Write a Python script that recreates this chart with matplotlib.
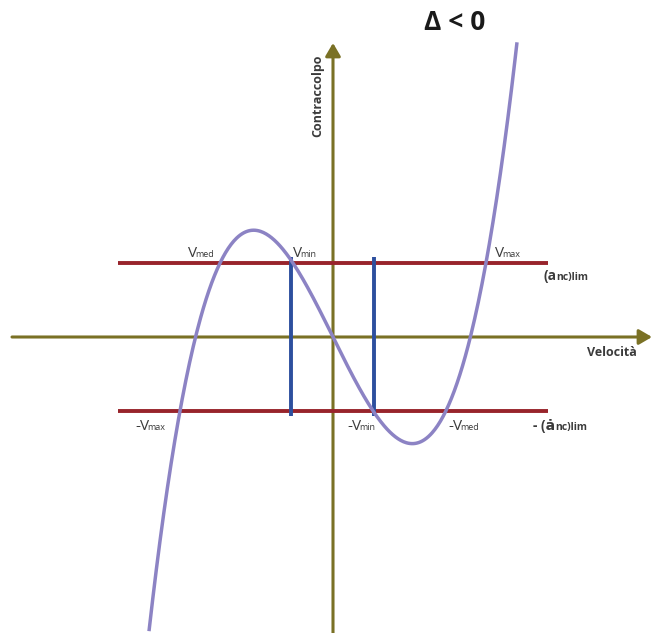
import numpy as np
import matplotlib
matplotlib.use("Agg")
import matplotlib.pyplot as plt
from matplotlib.transforms import offset_copy

plt.rcParams['font.family'] = ['Open Sans', 'DejaVu Sans']

# Points (velocity, jerk), arbitrary units
curve_v = [-184, -170, -158, -153, -138, -114, -80, -41, 0, 40, 79, 113, 137, 153, 184]
curve_j = [-296, -180, -104, -74, 0, 74, 105, 74, 0, -74, -106, -74, 0, 74, 294]

# Limit jerk levels and the velocities where the bars stand
jerk_limit = 74
limit_line_span = [-215, 215]
bar_velocities = [-42, 41]
bar_span = [-79, 80]

# Axis extents
x_axis_span = [-321, 319]
y_axis_span = [-296, 294]

AXIS_COL = '#7a7125'
LIMIT_COL = '#98242b'
BAR_COL = '#2d4f9e'
CURVE_COL = '#8c83c4'
TEXT_COL = '#3b3b3b'

fig = plt.figure(figsize=(6.62, 6.33), dpi=100)
ax = fig.add_axes([0, 0, 1, 1])
ax.set_xlim(-333, 329)
ax.set_ylim(-296, 337)
ax.axis('off')

# axes with arrowheads
arrow_style = '-|>,head_length=0.65,head_width=0.38'
ax.annotate('', xy=(x_axis_span[1], 0), xytext=(x_axis_span[0], 0),
            arrowprops=dict(arrowstyle=arrow_style, mutation_scale=12, lw=2.2,
                            color=AXIS_COL, shrinkA=0, shrinkB=0), zorder=1)
ax.annotate('', xy=(0, y_axis_span[1]), xytext=(0, y_axis_span[0]),
            arrowprops=dict(arrowstyle=arrow_style, mutation_scale=12, lw=2.2,
                            color=AXIS_COL, shrinkA=0, shrinkB=0), zorder=1)

# jerk limits
ax.hlines([jerk_limit, -jerk_limit], limit_line_span[0], limit_line_span[1],
          color=LIMIT_COL, lw=2.8, zorder=2)
# velocity bars
ax.vlines(bar_velocities, bar_span[0], bar_span[1], color=BAR_COL, lw=2.8, zorder=3)

# cubic jerk curve
coef = np.polyfit(curve_v, curve_j, 3)
vv = np.linspace(min(curve_v), max(curve_v), 400)
ax.plot(vv, np.polyval(coef, vv), color=CURVE_COL, lw=2.5, zorder=4,
        solid_capstyle='butt')

renderer = fig.canvas.get_renderer()


def two_part(x, y, main, sub, big, small, weight='normal', gap=-1.0):
    t = ax.text(x, y, main, fontsize=big, color=TEXT_COL, ha='left',
                va='baseline', fontweight=weight, zorder=5)
    w_px = t.get_window_extent(renderer).width
    tr = offset_copy(ax.transData, fig=fig, x=w_px * 72 / fig.dpi + gap,
                     y=0, units='points')
    ax.text(x, y, sub, fontsize=small, color=TEXT_COL, ha='left',
            va='baseline', fontweight=weight, transform=tr, zorder=5)


# velocity labels
two_part(-145, 80, 'V', 'med', 11, 6.5)
two_part(-40, 80, 'V', 'min', 11, 6.5)
two_part(162, 80, 'V', 'max', 11, 6.5)
two_part(-198, -93, '-V', 'max', 11, 6.5)
two_part(14, -93, '-V', 'min', 11, 6.5)
two_part(115, -93, '-V', 'med', 11, 6.5)

# limit labels
two_part(210, 57, '(a', 'nc)lim', 10, 7.5, 'bold', 0.0)
two_part(200, -93, '- (\u0227', 'nc)lim', 10, 7.5, 'bold', 0.0)

ax.text(279, -15, 'Velocità', fontsize=9, fontweight='bold', color=TEXT_COL,
        ha='center', va='center')
ax.text(-15, 241, 'Contraccolpo', fontsize=9, fontweight='bold', color=TEXT_COL,
        ha='center', va='center', rotation=90)
ax.text(122, 315, '\u0394 < 0', fontsize=19, fontweight='bold', color='#1a1a1a',
        ha='center', va='center')

fig.savefig('out.png', dpi=100, facecolor='white')
